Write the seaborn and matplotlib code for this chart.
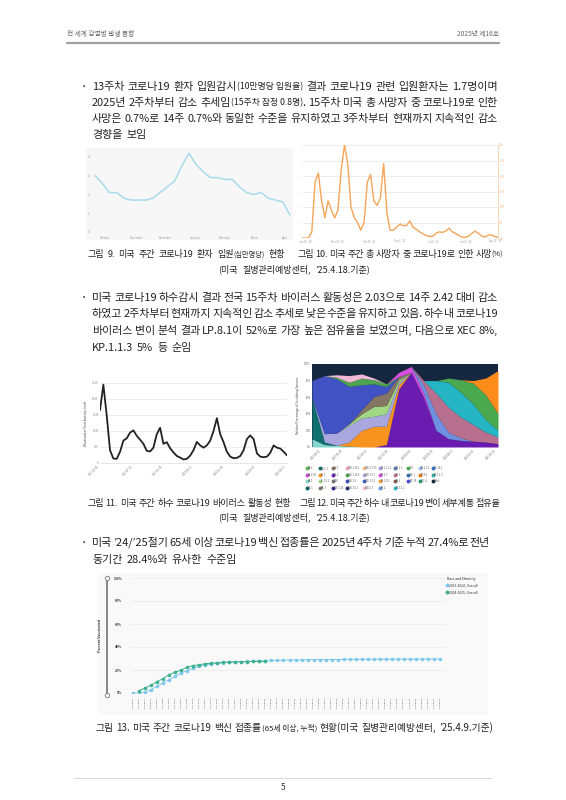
import re
import numpy as np
import pandas as pd
import matplotlib
matplotlib.use('Agg')
import matplotlib.pyplot as plt
import seaborn as sns
from matplotlib.lines import Line2D

# ---------------- data ----------------
# fig 9: weekly covid hospitalisation rate (per 100k), Oct -> Apr
hosp_rate = [3.0, 2.6, 2.1, 2.1, 1.8, 1.7, 1.7, 1.7, 1.8, 2.1, 2.4, 2.7, 3.5, 4.2,
             3.6, 3.2, 2.9, 2.9, 2.8, 2.8, 2.4, 2.1, 2.0, 2.1, 1.8, 1.7, 1.6, 0.9]
month_names = ['October', 'November', 'December', 'January', 'February', 'March', 'April']
month_pos = [1.4, 5.8, 9.7, 13.9, 18.0, 22.2, 26.3]

# fig 10: % of all deaths due to covid
death_pct = [0, 0, 0, 2, 18, 21, 12, 6.5, 12, 9,
             6.5, 9, 22, 30, 24, 10, 6.5, 5, 2.5, 5,
             18, 20.5, 12, 10.5, 13, 24, 8, 2.5, 2.5, 3.5,
             4.5, 4, 4, 5.5, 3.5, 2.8, 2, 1.4, 0.8, 0.5,
             0.6, 1.5, 2, 1.8, 2.2, 3.2, 2, 1.5, 0.8, 0.3,
             0.2, 0.6, 1.5, 2.2, 1.5, 0.6, 0.3, 0.9, 1.0, 0.5, 0.2]
death_xlabels = ["Jan 25, '20", "Nov 28, '20", "Oct 30, '21", "Sep 3, '22",
                 "Jul 8, '23", "Jun 8, '24", "Apr 12, '25"]
death_xpos = [1, 10.7, 20.4, 30, 40.3, 50, 59]

# fig 11: wastewater viral activity level
ww_level = [16.5, 24.5, 15, 4, 1.4, 1.3, 3.5, 7, 7.7, 9.5,
            10.2, 8.5, 7.3, 6, 3.8, 3.6, 4.8, 9, 11, 6,
            6.5, 4.6, 3.3, 2.2, 1.7, 1.1, 1.3, 2.3, 4, 6.6,
            5.5, 4.8, 5.5, 7, 10, 14, 9, 6.5, 3.5, 2,
            1.5, 1.6, 2.2, 4, 7.5, 8.6, 7.5, 3, 2, 1.8,
            2, 3.2, 5.5, 4.8, 4.5, 3.5, 2.4]
ww_xlabels = ['2021-12-04', '2022-07-16', '2023-01-28', '2023-08-12',
              '2024-02-24', '2024-09-07', '2025-04-12']
ww_xpos = [0, 10, 19, 28, 37.5, 47, 56]

# fig 12: variant share (bottom -> top of the stack)
var_names = ['JN.1', 'BA.5', 'BQ.1.1', 'EG.5', 'XBB.1.9.1', 'HV.1', 'HK.3', 'XBB.1.5',
             'XBB.1.16.6', 'XBB.2.3', 'JN.1.7', 'KP.2', 'KP.3', 'KP.3.1.1', 'XEC', 'LP.8.1']
var_share = [
    [0, 0, 0, 0, 0, 0, 3, 70, 90, 60, 20, 10, 8, 7, 6, 4],
    [10, 3, 2, 1, 0, 0, 0, 0, 0, 0, 0, 0, 0, 0, 0, 0],
    [50, 3, 0, 0, 0, 0, 0, 0, 0, 0, 0, 0, 0, 0, 0, 0],
    [0, 0, 0, 5, 20, 25, 22, 5, 0, 0, 0, 0, 0, 0, 0, 0],
    [0, 10, 15, 20, 15, 12, 15, 3, 0, 0, 0, 0, 0, 0, 0, 0],
    [0, 0, 0, 2, 5, 12, 10, 3, 0, 0, 0, 0, 0, 0, 0, 0],
    [0, 0, 0, 0, 5, 12, 15, 4, 0, 0, 0, 0, 0, 0, 0, 0],
    [20, 70, 65, 45, 30, 15, 8, 0, 0, 0, 0, 0, 0, 0, 0, 0],
    [0, 0, 2, 5, 8, 5, 3, 0, 0, 0, 0, 0, 0, 0, 0, 0],
    [0, 0, 3, 8, 5, 2, 0, 0, 0, 0, 0, 0, 0, 0, 0, 0],
    [0, 0, 0, 0, 0, 0, 0, 5, 7, 5, 0, 0, 0, 0, 0, 0],
    [0, 0, 0, 0, 0, 0, 0, 0, 0, 10, 20, 8, 3, 0, 0, 0],
    [0, 0, 0, 0, 0, 0, 0, 0, 0, 5, 25, 30, 25, 20, 12, 8],
    [0, 0, 0, 0, 0, 0, 0, 0, 0, 0, 15, 30, 30, 25, 15, 8],
    [0, 0, 0, 0, 0, 0, 0, 0, 0, 0, 0, 5, 15, 25, 30, 20],
    [0, 0, 0, 0, 0, 0, 0, 0, 0, 0, 0, 0, 0, 3, 20, 52],
]
var_colors = ['#6a1cb0', '#84d6ca', '#10706f', '#f7931e', '#a9a7de', '#a2d884', '#857563', '#4152c4',
              '#4da64f', '#f3b9d4', '#d650e0', '#6f8fe0', '#b8708f', '#26b5c5', '#4aa84f', '#ff8c1a']
other_color = '#15263f'
var_xlabels = ['2023-04-01', '2023-06-24', '2023-09-16', '2023-12-09', '2024-03-02',
               '2024-05-25', '2024-08-17', '2024-11-09', '2025-02-01']
var_xpos = [0.8, 2.6, 4.6, 6.3, 8.1, 9.9, 11.5, 13.2, 14.9]
legend_names = ['BA.2', 'BA.2.86', 'BA.5', 'BQ.1', 'BQ.1.1', 'EG.5', 'FL.1.5.1', 'HK.3', 'HV.1', 'JN.1',
                'XBB', 'XBB.1.16', 'XBB.1.16.1', 'XBB.1.16.6', 'XBB.1.5', 'XBB.1.5.1', 'XBB.1.5.59', 'XBB.1.9.1',
                'XBB.1.9.2', 'XBB.2.3', 'JN.1.11.1', 'JN.1.7', 'JN.1.8.1', 'KP.2', 'KP.1.1', 'KP.3',
                'LB.1', 'KP.3.1.1', 'XEC', 'MC.1', 'MC.19', 'LB.1.3.1', 'LP.8.1', 'XEC.4', 'MC.10.1',
                'KP.1.1.3', 'Other']
legend_colors = ['#5cb85c', '#c94fd8', '#84d6ca', '#0b5f66', '#10706f', '#f7931e', '#a2d884', '#857563',
                 '#8c6d5a', '#6a1cb0', '#777777', '#3a1d8f', '#f4a6b5', '#4da64f', '#4152c4', '#1f2a6b',
                 '#f7c08a', '#a9a7de', '#4060c0', '#f3b9d4', '#b0a0e0', '#d650e0', '#f0a040', '#6f8fe0',
                 '#5a7fb0', '#b8708f', '#7d5a50', '#26b5c5', '#4aa84f', '#2f6fb0', '#4a4ad0', '#9ab8e8',
                 '#e87a1a', '#2a9d6a', '#3a6fd0', '#2bb0a0', '#15263f']

# fig 13: cumulative vaccination 65+ (%)
vax_2324 = [0, 0, 0.6, 3, 5.8, 8.7, 11.6, 14.5, 17.4, 19.4,
            21.4, 23.2, 24.3, 25.2, 25.8, 26.2, 26.6, 26.9, 27.2, 27.5,
            27.7, 27.9, 28.1, 28.3, 28.4, 28.5, 28.6, 28.7, 28.8, 28.9,
            28.9, 29.0, 29.0, 29.1, 29.1, 29.2, 29.2, 29.2, 29.3, 29.3,
            29.3, 29.4, 29.4, 29.4, 29.4, 29.5, 29.5, 29.5, 29.5, 29.6,
            29.6, 29.6]
vax_2425 = [2, 4.3, 6.7, 10, 12.5, 16, 18, 20, 22.3, 23.8, 24.6,
            25.5, 25.8, 26.4, 26.7, 27, 27.1, 27.2, 27.3, 27.4, 27.4, 27.5]
vax_weeks = [d.strftime('%Y-%m-%d') for d in pd.date_range('2024-08-31', periods=52, freq='7D')]
vax_labels = ['2023-2024, Overall', '2024-2025, Overall']
vax_colors = ['#7ec8ec', '#3cb08e']

# ---------------- text ----------------
header_left = '전 세계 감염병 발생 동향'
header_right = '2025년 제16호'
para1 = ['13주차 코로나19 환자 입원감시[(10만명당 입원율)] 결과 코로나19 관련 입원환자는 1.7명이며',
         '2025년 2주차부터 감소 추세임[(15주차 잠정 0.8명)]. 15주차 미국 총 사망자 중 코로나19로 인한',
         '사망은 0.7%로 14주 0.7%와 동일한 수준을 유지하였고 3주차부터 현재까지 지속적인 감소',
         '경향을 보임']
para2 = ['미국 코로나19 하수감시 결과 전국 15주차 바이러스 활동성은 2.03으로 14주 2.42 대비 감소',
         '하였고 2주차부터 현재까지 지속적인 감소 추세로 낮은 수준을 유지하고 있음. 하수 내 코로나19',
         '바이러스 변이 분석 결과 LP.8.1이 52%로 가장 높은 점유율을 보였으며, 다음으로 XEC 8%,',
         'KP.1.1.3 5% 등 순임']
para3 = ['미국 ’24/’25절기 65세 이상 코로나19 백신 접종률은 2025년 4주차 기준 누적 27.4%로 전년',
         '동기간 28.4%와 유사한 수준임']
cap9 = '그림 9. 미국 주간 코로나19 환자 입원[(십만명당)] 현황'
cap10 = '그림 10. 미국 주간 총 사망자 중 코로나19로 인한 사망[(%)]'
cap11 = '그림 11. 미국 주간 하수 코로나19 바이러스 활동성 현황'
cap12 = '그림 12. 미국 주간 하수 내 코로나19 변이 세부계통 점유율'
cap13 = '그림 13. 미국 주간 코로나19 백신 접종률[(65세 이상, 누적)] 현황(미국 질병관리예방센터, ’25.4.9.기준)'
source = '(미국 질병관리예방센터, ’25.4.18.기준)'

# ---------------- drawing ----------------
sns.set_style('white')
plt.rcParams['font.family'] = ['Noto Sans CJK KR', 'DejaVu Sans']
plt.rcParams['axes.unicode_minus'] = False

W, H = 566, 800
fig = plt.figure(figsize=(W / 100, H / 100), dpi=100)
renderer = fig.canvas.get_renderer()


def box(x0, y0, x1, y1):
    return [x0 / W, 1 - y1 / H, (x1 - x0) / W, (y1 - y0) / H]


def rich_line(x0, y, line, size, x1=None, center=None, color='#222222', gap_em=0.36):
    # words split on spaces outside [..]; [..] parts are set in a smaller size
    items = []
    for word in re.split(r' (?![^\[]*\])', line):
        arts = []
        for m in re.finditer(r'\[([^\]]*)\]|([^\[]+)', word):
            small = m.group(1) is not None
            txt = m.group(1) if small else m.group(2)
            t = fig.text(0, 0, txt, fontsize=size * 0.8 if small else size,
                         va='baseline', ha='left', color=color)
            arts.append((t, t.get_window_extent(renderer).width))
        items.append(arts)
    total = sum(w for arts in items for _, w in arts)
    gap = size * gap_em * 100 / 72
    if x1 is not None and len(items) > 1:
        gap = (x1 - x0 - total) / (len(items) - 1)
    if center is not None:
        x0 = center - (total + gap * (len(items) - 1)) / 2
    x = x0
    for arts in items:
        for t, w in arts:
            t.set_position((x / W, 1 - (y + 3.6) / H))
            x += w
        x += gap


def paragraph(lines, y0, dy, x0=92, x1=498, size=7.9):
    fig.text(83 / W, 1 - y0 / H, '•', fontsize=5, va='center', color='#222222')
    for i, line in enumerate(lines):
        last = i == len(lines) - 1
        rich_line(x0, y0 + i * dy, line, size, x1=None if last else x1)


# header / footer
fig.text(67 / W, 1 - 34 / H, header_left, fontsize=4.8, color='#666666', va='center')
fig.text(499 / W, 1 - 34 / H, header_right, fontsize=4.8, color='#666666', va='center', ha='right')
fig.add_artist(Line2D([67 / W, 499 / W], [1 - 43 / H] * 2, color='#a0a0a0', lw=1.6))
fig.add_artist(Line2D([74 / W, 492 / W], [1 - 778 / H] * 2, color='#d8d8d8', lw=0.7))
fig.text(283 / W, 1 - 788 / H, '5', fontsize=6, color='#333333', va='center', ha='center')
fig.text(283 / W, 1 - 762 / H, '.', fontsize=3, color='#bbbbbb', va='center', ha='center')

paragraph(para1, 86, 16)
paragraph(para2, 297, 16.8)
paragraph(para3, 542, 17, x1=490)

cap_size = 6.5
rich_line(87, 253, cap9, cap_size, x1=285)
rich_line(297, 253, cap10, cap_size, x1=503)
rich_line(0, 269, source, cap_size, center=294, gap_em=0.5)
rich_line(87, 502, cap11, cap_size, x1=291)
rich_line(299, 502, cap12, cap_size, x1=500)
rich_line(0, 517, source, cap_size, center=294, gap_em=0.5)
rich_line(95, 727, cap13, 7.0, x1=493)

# fig 9
ax9 = fig.add_axes(box(86, 148, 293, 240))
ax9.set_facecolor('#f7f7f7')
sns.lineplot(x=np.arange(len(hosp_rate)), y=hosp_rate, ax=ax9, color='#a8dbeb', lw=1.1)
ax9.set_xlim(-1.25, 27.42)
ax9.set_ylim(-0.43, 4.48)
ax9.set_yticks(range(5))
ax9.set_xticks(month_pos)
ax9.set_xticklabels(month_names)
ax9.tick_params(axis='y', length=0, pad=-1, labelsize=2.3, labelcolor='#999999')
ax9.tick_params(axis='x', length=0, pad=-3.2, labelsize=2.0, labelcolor='#999999')
for lab in ax9.get_yticklabels():
    lab.set_horizontalalignment('left')
sns.despine(ax=ax9, left=True, bottom=True)

# fig 10
ax10 = fig.add_axes(box(302, 145, 498, 238))
sns.lineplot(x=np.arange(len(death_pct)), y=death_pct, ax=ax10, color='#f4a558', lw=1.0)
ax10.set_xlim(0, len(death_pct) - 1)
ax10.set_ylim(0, 30)
ax10.set_yticks(range(0, 31, 5))
ax10.set_yticklabels([f'{v}%' for v in range(0, 31, 5)])
ax10.yaxis.tick_right()
ax10.grid(axis='y', color='#e6e6e6', lw=0.5)
ax10.set_xticks(death_xpos)
ax10.set_xticklabels(death_xlabels)
ax10.tick_params(length=0, labelsize=1.8, labelcolor='#999999', pad=1)
ax10.tick_params(axis='y', labelcolor='#f3b27a')
for s in ['top', 'left', 'bottom']:
    ax10.spines[s].set_visible(False)
ax10.spines['right'].set_color('#f6d2ad')
ax10.spines['right'].set_linewidth(0.6)

# fig 11
ax11 = fig.add_axes(box(100, 383, 287, 463))
sns.lineplot(x=np.arange(len(ww_level)), y=ww_level, ax=ax11, color='#222222', lw=1.3)
ax11.set_xlim(0, len(ww_level) - 1)
ax11.set_ylim(0, 25)
ax11.set_yticks(range(0, 26, 5))
ax11.set_yticklabels(['0'] + [f'{v}.00' for v in range(5, 26, 5)])
ax11.grid(axis='y', color='#e6e6e6', lw=0.5)
ax11.set_xticks(ww_xpos)
ax11.set_xticklabels(ww_xlabels, rotation=45, ha='right')
ax11.tick_params(length=0, labelsize=1.8, labelcolor='#777777', pad=1)
ax11.set_ylabel('Wastewater Viral Activity Level', fontsize=2.3, color='#444444')
ax11.yaxis.set_label_coords(-0.064, 0.5)
sns.despine(ax=ax11, left=True, bottom=False)
ax11.spines['bottom'].set_color('#dddddd')
ax11.spines['bottom'].set_linewidth(0.5)

# fig 12
ax12 = fig.add_axes(box(312, 364, 498, 447))
ax12.set_facecolor(other_color)
xs = np.arange(len(var_share[0]))
ax12.stackplot(xs, var_share, colors=var_colors, lw=0)
ax12.set_xlim(0, len(xs) - 1)
ax12.set_ylim(0, 100)
ax12.set_yticks(range(0, 101, 20))
ax12.set_yticklabels([f'{v}%' for v in range(0, 101, 20)])
ax12.set_xticks(var_xpos)
ax12.set_xticklabels(var_xlabels, rotation=45, ha='right')
ax12.tick_params(length=0, labelsize=1.8, labelcolor='#666666', pad=1)
ax12.set_ylabel('Relative Percentage of Circulating Variants', fontsize=2.1, color='#444444')
ax12.yaxis.set_label_coords(-0.065, 0.5)
for s in ax12.spines.values():
    s.set_visible(False)
handles = [Line2D([], [], marker='o', ls='', color=c, ms=1.8) for c in legend_colors]
fig.legend(handles, legend_names, loc='upper left', bbox_to_anchor=(305 / W, 1 - 465 / H),
           ncol=10, fontsize=1.8, frameon=False, handlelength=0.5, handletextpad=0.2,
           columnspacing=0.9, labelspacing=1.0, borderpad=0, labelcolor='#555555')

# fig 13
panel = fig.add_axes(box(98, 573, 488, 715))
panel.set_facecolor('#f9f9f9')
panel.set_xticks([])
panel.set_yticks([])
for s in panel.spines.values():
    s.set_visible(False)
ax13 = fig.add_axes(box(130, 578, 445, 693))
ax13.patch.set_alpha(0)
sns.lineplot(x=np.arange(len(vax_2324)), y=vax_2324, ax=ax13, color=vax_colors[0], lw=0.7,
             marker='o', ms=1.8, mec=vax_colors[0])
sns.lineplot(x=np.arange(1, len(vax_2425) + 1), y=vax_2425, ax=ax13, color=vax_colors[1], lw=0.7,
             marker='o', ms=1.8, mec=vax_colors[1])
ax13.set_xlim(-0.5, 51.83)
ax13.set_ylim(0, 100)
ax13.set_yticks(range(0, 101, 20))
ax13.set_yticklabels([f'{v}%' for v in range(0, 101, 20)], fontweight='bold')
ax13.grid(axis='y', color='#e9e9e9', lw=0.5)
ax13.set_xticks(np.arange(len(vax_weeks)))
ax13.set_xticklabels(vax_weeks, rotation=90)
ax13.tick_params(axis='y', length=0, labelsize=2.4, labelcolor='#333333', pad=5.5)
ax13.tick_params(axis='x', length=0, labelsize=1.6, labelcolor='#444444', pad=2.5)
ax13.set_ylabel('Percent Vaccinated', fontsize=2.5, fontweight='bold', color='#333333')
ax13.yaxis.set_label_coords((102 - 130) / 315, 0.5)
for s in ax13.spines.values():
    s.set_visible(False)
fig.add_artist(Line2D([107 / W] * 2, [1 - 578 / H, 1 - 695 / H], color='#666666', lw=1.1,
                      marker='o', ms=3.2, mfc='white', mec='#777777', mew=0.6))
vh = [Line2D([], [], marker='o', ls='', color=c, ms=1.8) for c in vax_colors]
fig.legend(vh, vax_labels, title='Race and Ethnicity', loc='upper left',
           bbox_to_anchor=(445 / W, 1 - 575 / H), fontsize=2.4, title_fontsize=2.4,
           frameon=False, handlelength=0.4, handletextpad=0.2, labelspacing=0.8,
           borderpad=0, alignment='left', labelcolor='#333333')

fig.savefig('out.png', dpi=100, facecolor='white')
